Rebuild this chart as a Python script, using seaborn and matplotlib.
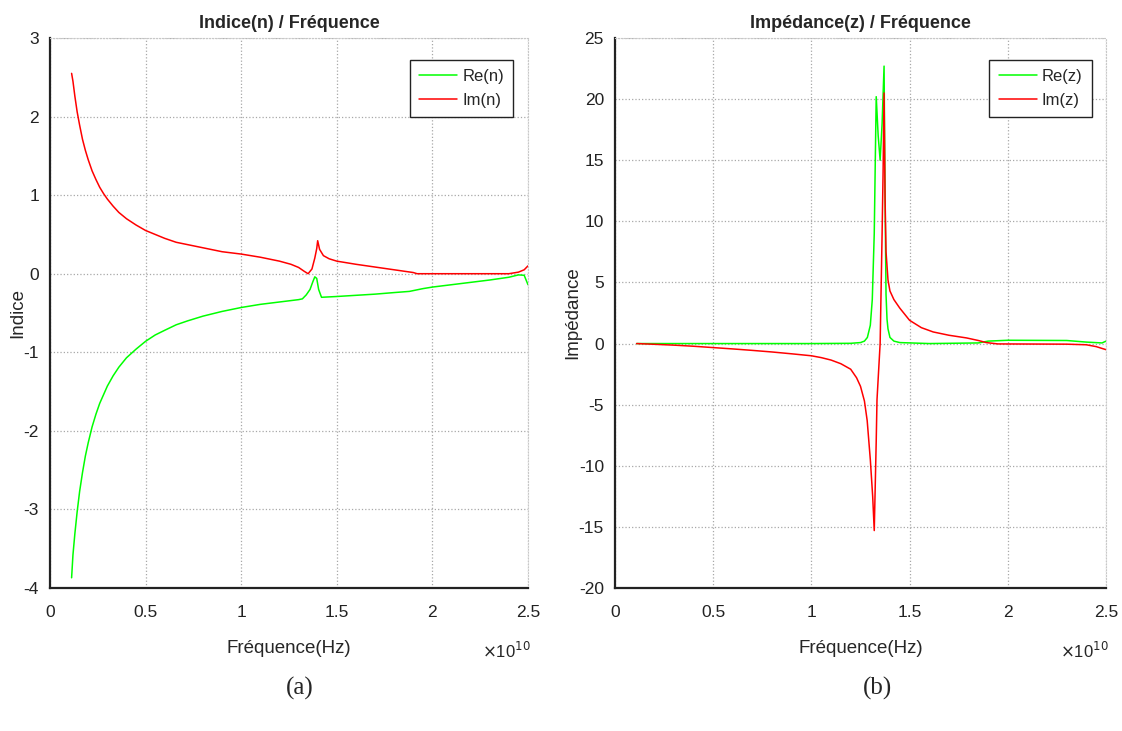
import numpy as np
import pandas as pd
import matplotlib
matplotlib.use("Agg")
import matplotlib.pyplot as plt
import seaborn as sns

# <--- data (frequency in units of 1e10 Hz) --->
freq_re_n = [0.113, 0.12, 0.13, 0.142, 0.155, 0.17, 0.185, 0.2, 0.22, 0.24, 0.26, 0.28, 0.3,
             0.33, 0.36, 0.4, 0.45, 0.5, 0.55, 0.6, 0.66, 0.72, 0.8, 0.9, 1.0, 1.1, 1.2, 1.3,
             1.32, 1.34, 1.36, 1.375, 1.385, 1.395, 1.405, 1.42, 1.5, 1.6, 1.7, 1.8, 1.88,
             1.95, 2.0, 2.1, 2.2, 2.3, 2.4, 2.45, 2.48, 2.5]
re_n = [-3.87, -3.58, -3.31, -3.03, -2.77, -2.53, -2.32, -2.15, -1.95, -1.79, -1.65, -1.54, -1.43,
        -1.30, -1.19, -1.07, -0.96, -0.86, -0.78, -0.72, -0.65, -0.60, -0.54, -0.48, -0.43, -0.39, -0.36, -0.33,
        -0.32, -0.27, -0.2, -0.1, -0.04, -0.06, -0.2, -0.3, -0.29, -0.275, -0.26, -0.24, -0.225,
        -0.19, -0.17, -0.14, -0.11, -0.08, -0.045, -0.015, -0.02, -0.14]

freq_im_n = [0.113, 0.12, 0.13, 0.142, 0.155, 0.17, 0.185, 0.2, 0.22, 0.24, 0.26, 0.28, 0.3,
             0.33, 0.36, 0.4, 0.45, 0.5, 0.55, 0.6, 0.66, 0.72, 0.8, 0.9, 1.0, 1.1, 1.2, 1.26,
             1.3, 1.33, 1.35, 1.37, 1.385, 1.395, 1.40, 1.41, 1.43, 1.46, 1.5, 1.6, 1.7, 1.8,
             1.9, 1.92, 2.0, 2.2, 2.4, 2.45, 2.48, 2.5]
im_n = [2.55, 2.45, 2.26, 2.06, 1.89, 1.71, 1.57, 1.45, 1.31, 1.20, 1.10, 1.02, 0.95,
        0.86, 0.78, 0.70, 0.62, 0.55, 0.50, 0.45, 0.40, 0.37, 0.33, 0.28, 0.25, 0.21, 0.16, 0.12,
        0.08, 0.03, 0.0, 0.06, 0.2, 0.32, 0.42, 0.31, 0.23, 0.19, 0.16, 0.12, 0.085, 0.05,
        0.015, 0.0, 0.0, 0.0, 0.0, 0.02, 0.05, 0.1]

freq_re_z = [0.11, 0.5, 1.0, 1.2, 1.25, 1.27, 1.285, 1.30, 1.31, 1.32, 1.33, 1.34, 1.35, 1.36,
             1.37, 1.375, 1.38, 1.385, 1.39, 1.40, 1.42, 1.45, 1.6, 1.85, 1.9, 2.0, 2.3, 2.4,
             2.48, 2.5]
re_z = [0.0, 0.0, 0.0, 0.02, 0.08, 0.2, 0.5, 1.5, 3.6, 9.0, 20.2, 17.0, 15.0, 18.0,
        22.7, 12.0, 4.0, 2.0, 1.2, 0.5, 0.2, 0.08, 0.0, 0.05, 0.2, 0.27, 0.25, 0.12,
        0.05, 0.2]

freq_im_z = [0.11, 0.2, 0.3, 0.4, 0.5, 0.6, 0.7, 0.8, 0.9, 1.0, 1.05, 1.1, 1.15, 1.2, 1.23,
             1.25, 1.27, 1.284, 1.30, 1.312, 1.32, 1.33, 1.334, 1.35, 1.36, 1.365, 1.37,
             1.375, 1.38, 1.39, 1.40, 1.42, 1.45, 1.5, 1.56, 1.62, 1.7, 1.79, 1.85, 1.89,
             1.95, 2.3, 2.4, 2.45, 2.5]
im_z = [0.0, -0.06, -0.13, -0.22, -0.33, -0.44, -0.56, -0.69, -0.84, -1.0, -1.15, -1.35, -1.65, -2.1, -2.8,
        -3.5, -4.7, -6.3, -9.5, -12.5, -15.3, -8.0, -4.6, 0.0, 9.0, 14.0, 20.5,
        12.0, 7.5, 5.2, 4.3, 3.6, 2.9, 1.9, 1.3, 0.95, 0.68, 0.46, 0.25, 0.08,
        -0.03, -0.05, -0.1, -0.25, -0.5]

yticks_n = [-4, -3, -2, -1, 0, 1, 2, 3]
yticks_z = [-20, -15, -10, -5, 0, 5, 10, 15, 20, 25]
xticks = [0, 0.5, 1, 1.5, 2, 2.5]

sns.set_style("white")
plt.rcParams["font.family"] = ["Liberation Sans", "DejaVu Sans"]
plt.rcParams["axes.unicode_minus"] = False

fig = plt.figure(figsize=(11.22, 7.31), dpi=100)
W, H = 1122, 731
ax1 = fig.add_axes([50 / W, 1 - 588 / H, 478 / W, 550 / H])
ax2 = fig.add_axes([615 / W, 1 - 588 / H, 491 / W, 550 / H])

panels = [
    (ax1, freq_re_n, re_n, "Re(n)", freq_im_n, im_n, "Im(n)",
     "Indice(n) / Fréquence", "Indice", yticks_n, 0.969, -0.05),
    (ax2, freq_re_z, re_z, "Re(z)", freq_im_z, im_z, "Im(z)",
     "Impédance(z) / Fréquence", "Impédance", yticks_z, 0.971, -0.069),
]

for ax, fr, vr, lr, fi, vi, li, title, ylab, yt, lx, ylx in panels:
    sns.lineplot(x=fr, y=vr, ax=ax, color="#00ff00", lw=1.1, label=lr,
                 sort=False, estimator=None)
    sns.lineplot(x=fi, y=vi, ax=ax, color="#ff0000", lw=1.1, label=li,
                 sort=False, estimator=None)
    ax.set_xlim(0, 2.5)
    ax.set_ylim(yt[0], yt[-1])
    ax.set_xticks(xticks)
    ax.set_xticklabels(["0", "0.5", "1", "1.5", "2", "2.5"])
    ax.set_yticks(yt)
    ax.grid(True, ls=":", color="#a8a8a8", lw=0.9)
    ax.tick_params(direction="in", length=5, width=1.2, labelsize=12.5,
                   colors="#222222")
    ax.tick_params(axis="x", pad=12)
    ax.tick_params(axis="y", pad=8)
    for s in ["left", "bottom"]:
        ax.spines[s].set_color("#222222")
        ax.spines[s].set_linewidth(1.6)
    for s in ["top", "right"]:
        ax.spines[s].set_color("#c8c8c8")
        ax.spines[s].set_linewidth(0.8)
        ax.spines[s].set_linestyle(":")
    ax.set_title(title, fontsize=13, fontweight="bold", pad=7)
    ax.set_xlabel("Fréquence(Hz)", fontsize=13.5)
    ax.set_ylabel(ylab, fontsize=13.5)
    ax.xaxis.set_label_coords(0.5, -0.094)
    ax.yaxis.set_label_coords(ylx, 0.5)
    ax.text(0.955, -0.115, r"$\times$10$^{10}$", transform=ax.transAxes,
            ha="center", va="center", fontsize=12)
    leg = ax.legend(loc="upper right", bbox_to_anchor=(lx, 0.96), borderaxespad=0,
                    fancybox=False, framealpha=1, edgecolor="#222222",
                    fontsize=12, handlelength=2.3, handletextpad=0.3,
                    borderpad=0.55, labelspacing=0.5)
    leg.get_frame().set_linewidth(1.0)

fig.text(300 / W, 1 - 688 / H, "(a)", ha="center", va="center",
         fontsize=18, family="Liberation Serif")
fig.text(877 / W, 1 - 688 / H, "(b)", ha="center", va="center",
         fontsize=18, family="Liberation Serif")

fig.savefig("out.png", dpi=100)
